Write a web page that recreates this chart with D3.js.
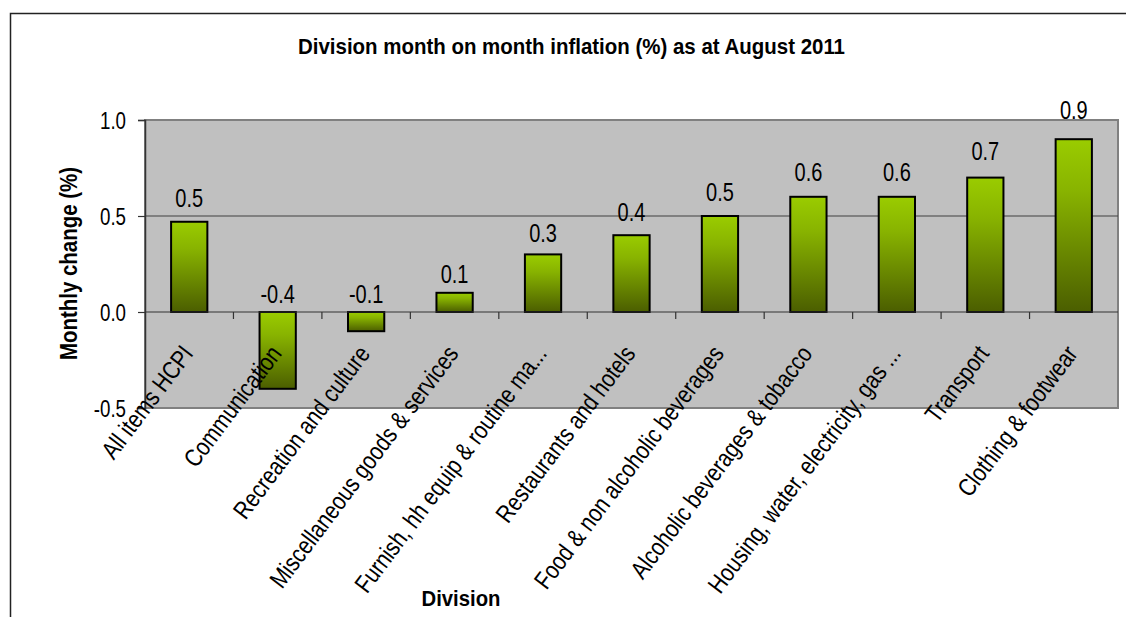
<!DOCTYPE html>
<html><head><meta charset="utf-8">
<script src="https://cdn.jsdelivr.net/npm/d3@7"></script>
<style>body{margin:0;background:#fff}svg{display:block}text{font-family:"Liberation Sans",Arial,sans-serif;fill:#000}</style>
</head><body><svg id="chart" width="1126" height="617"></svg>
<script>
const categories = ["All items HCPI","Communication","Recreation and culture","Miscellaneous goods & services","Furnish, hh equip & routine ma...","Restaurants and hotels","Food & non alcoholic beverages","Alcoholic beverages & tobacco","Housing, water, electricity, gas ...","Transport","Clothing & footwear"];
const values = [0.47,-0.4,-0.1,0.1,0.3,0.4,0.5,0.6,0.6,0.7,0.9];
const yTicks = [-0.5,0.0,0.5,1.0];
const gridValues = [0.5];
const titleText = "Division month on month inflation (%) as at August 2011";
const xTitle = "Division";
const yTitle = "Monthly change (%)";

const svg = d3.select("#chart");
const L = 145, R = 1118, T = 120, B = 408;
const x = d3.scaleBand().domain(categories).range([L, R]).paddingInner(0.59).paddingOuter(0.295);
const y = d3.scaleLinear().domain([-0.5, 1.0]).range([B, T]);
const fmt = v => d3.format(".1f")(v).replace("\u2212","-");

// outer frame
svg.append("path").attr("d","M10.5,617V13.5H1126").attr("fill","none").attr("stroke","#222").attr("stroke-width",1.5);

const defs = svg.append("defs");
const grad = defs.append("linearGradient").attr("id","barGrad").attr("x1",0).attr("y1",0).attr("x2",0).attr("y2",1);
grad.append("stop").attr("offset","0").attr("stop-color","#9acc00");
grad.append("stop").attr("offset","0.3").attr("stop-color","#88b300");
grad.append("stop").attr("offset","1").attr("stop-color","#4b5e00");

// plot area
svg.append("rect").attr("x",L).attr("y",T).attr("width",R-L).attr("height",B-T)
  .attr("fill","#c0c0c0").attr("stroke","#808080").attr("stroke-width",2);

// gridlines
svg.selectAll(".grid").data(gridValues).join("line").attr("class","grid")
  .attr("x1",L).attr("x2",R).attr("y1",d=>y(d)).attr("y2",d=>y(d))
  .attr("stroke","#404040").attr("stroke-width",1);

// y axis
const yAxis = d3.axisLeft(y).tickValues(yTicks).tickSize(7).tickFormat("");
const ga = svg.append("g").attr("transform",`translate(${L},0)`).call(yAxis);
ga.select(".domain").attr("stroke","#333").attr("stroke-width",1.5);
ga.selectAll(".tick line").attr("stroke","#333").attr("stroke-width",1.2);

svg.selectAll(".ytl").data(yTicks).join("text").attr("class","ytl")
  .attr("transform",d=>`translate(126,${y(d)+8.5}) scale(0.78,1)`)
  .attr("text-anchor","end").attr("font-size",24).text(d=>fmt(d));

// bars
svg.selectAll(".bar").data(values).join("rect").attr("class","bar")
  .attr("x",(d,i)=>x(categories[i])).attr("width",x.bandwidth())
  .attr("y",d=>y(Math.max(0,d))).attr("height",d=>Math.abs(y(d)-y(0)))
  .attr("fill","url(#barGrad)").attr("stroke","#000").attr("stroke-width",2);

// zero axis line and category ticks
svg.append("line").attr("x1",L).attr("x2",R).attr("y1",y(0)).attr("y2",y(0)).attr("stroke","#333").attr("stroke-width",1.2);
const bounds = categories.slice(0,-1).map(c=>x(c)+x.bandwidth()+(x.step()-x.bandwidth())/2);
svg.selectAll(".xt").data(bounds).join("line").attr("class","xt")
  .attr("x1",d=>d).attr("x2",d=>d).attr("y1",y(0)).attr("y2",y(0)+7)
  .attr("stroke","#333").attr("stroke-width",1.2);

// value labels
svg.selectAll(".vl").data(values).join("text").attr("class","vl")
  .attr("transform",(d,i)=>`translate(${x(categories[i])+x.bandwidth()/2},${y(Math.max(0,d))-9-12*Math.max(0,d)}) scale(0.8,1)`)
  .attr("text-anchor","middle").attr("font-size",25).text(d=>fmt(d));

// category labels
svg.selectAll(".cl").data(categories).join("text").attr("class","cl")
  .attr("transform",d=>`translate(${x(d)+x.bandwidth()/2+5},354) rotate(-53) scale(0.83,1)`)
  .attr("text-anchor","end").attr("font-size",25).text(d=>d);

// titles
svg.append("text").attr("x",571.5).attr("y",54).attr("text-anchor","middle")
  .attr("font-size",22).attr("font-weight","bold").attr("textLength",547).attr("lengthAdjust","spacingAndGlyphs").text(titleText);
svg.append("text").attr("x",461).attr("y",606).attr("text-anchor","middle")
  .attr("font-size",22).attr("font-weight","bold").attr("textLength",79).attr("lengthAdjust","spacingAndGlyphs").text(xTitle);
svg.append("text").attr("transform","translate(77,263.5) rotate(-90)").attr("text-anchor","middle")
  .attr("font-size",24).attr("font-weight","bold").attr("textLength",193).attr("lengthAdjust","spacingAndGlyphs").text(yTitle);
</script></body></html>
